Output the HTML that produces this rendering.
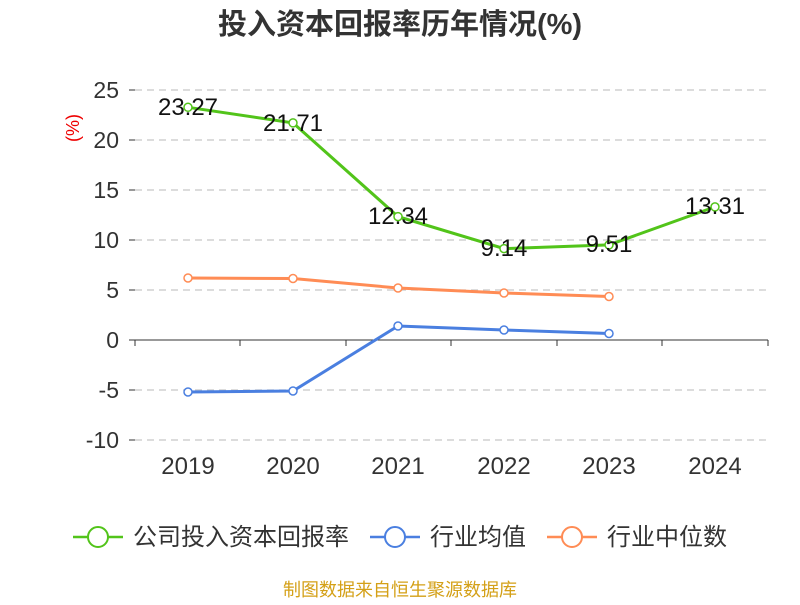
<!DOCTYPE html>
<html><head><meta charset="utf-8"><style>
body{margin:0;background:#fff;}
svg text{font-family:"Liberation Sans","Noto Sans CJK SC",sans-serif;}
</style></head><body>
<svg width="800" height="600" viewBox="0 0 800 600" xmlns="http://www.w3.org/2000/svg">
<text x="400" y="34" text-anchor="middle" font-size="29" font-weight="bold" fill="#333">投入资本回报率历年情况(%)</text>
<g stroke="#c8c8c8" stroke-width="1.2" stroke-dasharray="7,5">
<line x1="135" y1="90" x2="768" y2="90"/><line x1="135" y1="140" x2="768" y2="140"/>
<line x1="135" y1="190" x2="768" y2="190"/><line x1="135" y1="240" x2="768" y2="240"/>
<line x1="135" y1="290" x2="768" y2="290"/><line x1="135" y1="390" x2="768" y2="390"/>
<line x1="135" y1="440" x2="768" y2="440"/>
</g>
<g stroke="#333" stroke-width="1">
<line x1="135" y1="340" x2="768" y2="340"/>
<line x1="129" y1="90" x2="135" y2="90"/><line x1="129" y1="140" x2="135" y2="140"/>
<line x1="129" y1="190" x2="135" y2="190"/><line x1="129" y1="240" x2="135" y2="240"/>
<line x1="129" y1="290" x2="135" y2="290"/><line x1="129" y1="340" x2="135" y2="340"/>
<line x1="129" y1="390" x2="135" y2="390"/><line x1="129" y1="440" x2="135" y2="440"/>
<line x1="135" y1="340" x2="135" y2="346"/><line x1="240" y1="340" x2="240" y2="346"/>
<line x1="346" y1="340" x2="346" y2="346"/><line x1="451" y1="340" x2="451" y2="346"/>
<line x1="557" y1="340" x2="557" y2="346"/><line x1="662" y1="340" x2="662" y2="346"/>
<line x1="768" y1="340" x2="768" y2="346"/>
</g>
<g font-size="23" fill="#333" text-anchor="end">
<text x="119" y="98">25</text><text x="119" y="148">20</text><text x="119" y="198">15</text>
<text x="119" y="248">10</text><text x="119" y="298">5</text><text x="119" y="348">0</text>
<text x="119" y="398">-5</text><text x="119" y="448">-10</text>
</g>
<text x="0" y="0" transform="translate(79,128) rotate(-90)" text-anchor="middle" font-size="18" fill="#e00">(%)</text>
<g font-size="24" fill="#333" text-anchor="middle">
<text x="188" y="474">2019</text><text x="293" y="474">2020</text><text x="398" y="474">2021</text>
<text x="504" y="474">2022</text><text x="609" y="474">2023</text><text x="715" y="474">2024</text>
</g>
<g fill="none" stroke-width="3">
<polyline stroke="#52c41a" points="188,107.3 293,122.9 398,216.6 504,248.6 609,244.9 715,206.9"/>
<polyline stroke="#4a7fe0" points="188,392 293,391 398,326 504,330 609,333.5"/>
<polyline stroke="#ff8c55" points="188,278 293,278.5 398,288 504,293 609,296.5"/>
</g>
<g fill="#fff" stroke-width="1.5">
<g stroke="#52c41a"><circle cx="188" cy="107.3" r="4"/><circle cx="293" cy="122.9" r="4"/><circle cx="398" cy="216.6" r="4"/><circle cx="504" cy="248.6" r="4"/><circle cx="609" cy="244.9" r="4"/><circle cx="715" cy="206.9" r="4"/></g>
<g stroke="#4a7fe0"><circle cx="188" cy="392" r="4"/><circle cx="293" cy="391" r="4"/><circle cx="398" cy="326" r="4"/><circle cx="504" cy="330" r="4"/><circle cx="609" cy="333.5" r="4"/></g>
<g stroke="#ff8c55"><circle cx="188" cy="278" r="4"/><circle cx="293" cy="278.5" r="4"/><circle cx="398" cy="288" r="4"/><circle cx="504" cy="293" r="4"/><circle cx="609" cy="296.5" r="4"/></g>
</g>
<g font-size="24" fill="#111" text-anchor="middle">
<text x="188" y="115">23.27</text><text x="293" y="131">21.71</text><text x="398" y="224">12.34</text>
<text x="504" y="256">9.14</text><text x="609" y="252">9.51</text><text x="715" y="214">13.31</text>
</g>
<g font-size="24" fill="#333">
<line x1="73" y1="537" x2="123" y2="537" stroke="#52c41a" stroke-width="2.5"/><circle cx="98" cy="537" r="10" fill="#fff" stroke="#52c41a" stroke-width="2"/>
<text x="133" y="545">公司投入资本回报率</text>
<line x1="370" y1="537" x2="420" y2="537" stroke="#4a7fe0" stroke-width="2.5"/><circle cx="395" cy="537" r="10" fill="#fff" stroke="#4a7fe0" stroke-width="2"/>
<text x="430" y="545">行业均值</text>
<line x1="547" y1="537" x2="597" y2="537" stroke="#ff8c55" stroke-width="2.5"/><circle cx="572" cy="537" r="10" fill="#fff" stroke="#ff8c55" stroke-width="2"/>
<text x="607" y="545">行业中位数</text>
</g>
<text x="400" y="596" text-anchor="middle" font-size="18" fill="#d4a017">制图数据来自恒生聚源数据库</text>
</svg>
</body></html>
